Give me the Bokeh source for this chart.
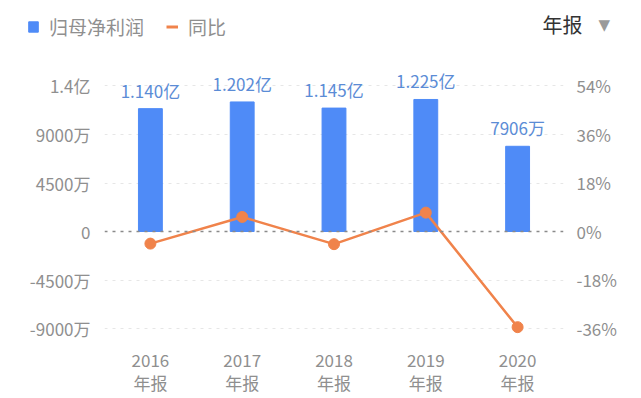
from bokeh.plotting import figure
from bokeh.layouts import column
from bokeh.models import (Range1d, LinearAxis, FixedTicker, Span, Legend,
                          LegendItem, Label, ColumnDataSource)
from bokeh.embed import file_html
from bokeh.resources import INLINE
from bokeh.core.properties import value

# ---- data ----
years = ["2016", "2017", "2018", "2019", "2020"]
profit = [11400, 12020, 11450, 12250, 7906]      # 万元
yoy = [-4.5, 5.4, -4.7, 7.0, -35.5]              # %
left_ticks = [-9000, -4500, 0, 4500, 9000, 13500]
left_tick_labels = ["-9000万", "-4500万", "0", "4500万", "9000万", "1.4亿"]
right_ticks = [-36, -18, 0, 18, 36, 54]
right_tick_labels = ["-36%", "-18%", "0%", "18%", "36%", "54%"]
period_labels = ["年报"] * len(years)
legend_labels = ["归母净利润", "同比"]
period_selector = "年报"
bar_labels = [f"{v/10000:.3f}亿" if v >= 10000 else f"{v}万" for v in profit]

FONT = "Noto Sans CJK SC"
BLUE = "#4f8bf7"
ORANGE = "#f0834b"
GRAY = "#8f8f8f"

xpos = [i + 0.5 for i in range(len(years))]   # category slots on the x scale
src = ColumnDataSource(dict(x=xpos, profit=profit, yoy=yoy, lab=bar_labels))

# ---------------- header (legend + period selector) ----------------
HH = 50
head = figure(x_range=Range1d(0, 641), y_range=Range1d(HH, 0), width=641,
              height=HH, output_backend="svg", toolbar_location=None,
              x_axis_location=None, y_axis_location=None,
              min_border=0, min_border_left=0, min_border_right=0,
              min_border_top=0, min_border_bottom=0, outline_line_color=None)
head.grid.grid_line_color = None
nodata = ColumnDataSource(dict(x=[float("nan")], y=[float("nan")],
                               top=[float("nan")]))
hb = head.vbar(x="x", top="top", width=1, source=nodata, color=BLUE)
hl = head.line(x="x", y="y", source=nodata, line_color=ORANGE, line_width=3)
legend = Legend(items=[LegendItem(label=legend_labels[0], renderers=[hb]),
                       LegendItem(label=legend_labels[1], renderers=[hl])],
                location=(27, 10), orientation="horizontal",
                border_line_color=None, background_fill_alpha=0,
                label_text_font=FONT, label_text_font_size="19px",
                label_text_color=GRAY, glyph_width=12, glyph_height=13,
                label_height=20, label_standoff=10, spacing=22,
                padding=0, margin=0)
head.add_layout(legend)
head.add_layout(Label(x=542, y=24, text=period_selector, text_font=FONT,
                      text_font_size="20px", text_color="#333333",
                      text_baseline="middle"))
head.add_layout(Label(x=598, y=24, text="▼", text_font="DejaVu Sans",
                      text_font_size="15px", text_color="#9a9a9a",
                      text_baseline="middle"))

# ---------------- main chart ----------------
p = figure(x_range=Range1d(0, len(years)), y_range=Range1d(-9742, 14938),
           width=641, height=398 - HH, output_backend="svg",
           toolbar_location=None, x_axis_location=None,
           min_border_left=104, min_border_right=78, min_border_top=70 - HH,
           min_border_bottom=62, outline_line_color=None)
p.extra_y_ranges = {"pct": Range1d(-38.97, 59.75)}

for fig in (head, p):
    if "frame_align" in fig.properties():
        fig.frame_align = False

p.xgrid.grid_line_color = None
p.ygrid.ticker = FixedTicker(ticks=[t for t in left_ticks if t != 0])
p.ygrid.grid_line_color = "#e6e6e6"
p.ygrid.grid_line_dash = "3 5"
p.ygrid.grid_line_width = 1

zero = Span(location=0, dimension="width", line_color="#8a8a8a",
            line_dash="3 5", line_width=1.5)

p.vbar(x="x", top="profit", width=0.26, source=src, color=BLUE)
p.add_layout(zero)
p.line(x="x", y="yoy", source=src, y_range_name="pct",
       line_color=ORANGE, line_width=2.5)
p.scatter(x="x", y="yoy", source=src, y_range_name="pct", size=11,
          color=ORANGE)
p.text(x="x", y="profit", text="lab", source=src, text_align="center",
       text_baseline="bottom", y_offset=-6, text_color="#5b8cd6",
       text_font=value(FONT), text_font_size="17px")

la = p.yaxis[0]
la.ticker = FixedTicker(ticks=left_ticks)
la.major_label_overrides = dict(zip(left_ticks, left_tick_labels))
ra = LinearAxis(y_range_name="pct", ticker=FixedTicker(ticks=right_ticks))
ra.major_label_overrides = dict(zip(right_ticks, right_tick_labels))
p.add_layout(ra, "right")

xa1 = LinearAxis(ticker=FixedTicker(ticks=xpos))
xa1.major_label_overrides = dict(zip(xpos, years))
xa2 = LinearAxis(ticker=FixedTicker(ticks=xpos))
xa2.major_label_overrides = dict(zip(xpos, period_labels))
p.add_layout(xa1, "below")
p.add_layout(xa2, "below")

for ax in [la, ra, xa1, xa2]:
    ax.axis_line_color = None
    ax.major_tick_line_color = None
    ax.minor_tick_line_color = None
    ax.major_tick_out = 0
    ax.major_tick_in = 0
    ax.minor_tick_out = 0
    ax.major_label_text_color = GRAY
    ax.major_label_text_font = FONT
    ax.major_label_text_font_size = "17px"
la.major_label_standoff = 14
ra.major_label_standoff = 13
xa1.major_label_standoff = 17
xa2.major_label_standoff = 0

layout = column(head, p, spacing=0)
open("out.html", "w").write(file_html(layout, INLINE))
